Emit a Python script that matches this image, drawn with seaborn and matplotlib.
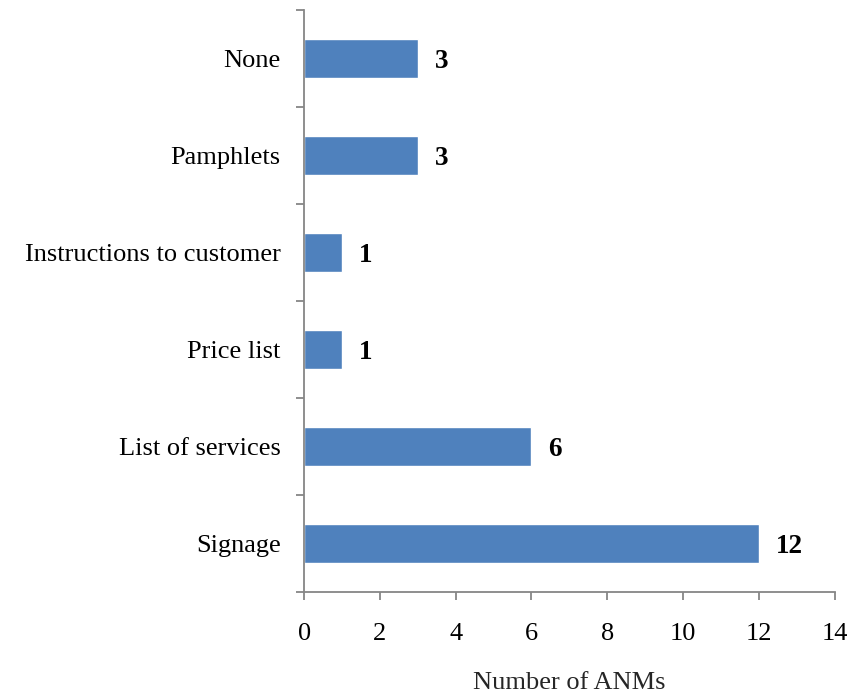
import matplotlib
matplotlib.use("Agg")
import matplotlib.pyplot as plt
import seaborn as sns
import pandas as pd
from matplotlib.ticker import FixedLocator

categories = ["None", "Pamphlets", "Instructions to customer",
              "Price list", "List of services", "Signage"]
counts = [3, 3, 1, 1, 6, 12]
x_ticks = [0, 2, 4, 6, 8, 10, 12, 14]

sns.set_theme(style="white")
plt.rcParams["font.family"] = ["Liberation Serif", "DejaVu Serif"]

df = pd.DataFrame({"method": categories, "n": counts})

fig = plt.figure(figsize=(8.64, 6.94), dpi=100)
ax = fig.add_axes([0.352, 0.147, 0.614, 0.838])

sns.barplot(data=df, y="method", x="n", orient="h", color="#4F81BD",
            saturation=1, width=0.4, order=categories, ax=ax)

labels = ax.bar_label(ax.containers[0], labels=[str(v) for v in counts],
                      padding=12, fontsize=19.5, fontweight="bold", color="black")
for t in labels:
    t.set_verticalalignment("center_baseline")

grey = "#868686"
for side in ("top", "right"):
    ax.spines[side].set_visible(False)
for side in ("left", "bottom"):
    ax.spines[side].set_color(grey)
    ax.spines[side].set_linewidth(1.3)

ax.set_xlim(0, 14)
ax.set_ylim(len(categories) - 0.5, -0.5)
ax.set_xticks(x_ticks)
ax.set_xticklabels([str(t) for t in x_ticks])
ax.tick_params(axis="x", length=6, width=1.3, color=grey, direction="out",
               pad=16, labelsize=19, labelcolor="black", bottom=True)
ax.tick_params(axis="y", which="major", length=0, pad=17, labelsize=19,
               labelcolor="black")
ax.yaxis.set_minor_locator(FixedLocator([i - 0.5 for i in range(len(categories) + 1)]))
ax.tick_params(axis="y", which="minor", length=6, width=1.3, color=grey,
               direction="out", left=True)

ax.set_ylabel("")
ax.set_xlabel("Number of ANMs", fontsize=19, labelpad=20)

fig.savefig("out.png", dpi=100)
